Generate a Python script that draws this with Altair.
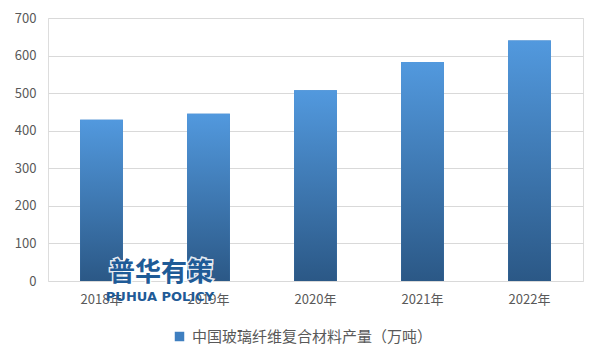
import altair as alt
import pandas as pd

years = ["2018年", "2019年", "2020年", "2021年", "2022年"]
values = [429, 445, 508, 583, 640]
series_name = "中国玻璃纤维复合材料产量（万吨）"
y_ticks = [0, 100, 200, 300, 400, 500, 600, 700]

df = pd.DataFrame({"year": years, "value": values, "series": [series_name] * len(years)})

FONT = "Noto Sans CJK SC"
x_enc = alt.X("year:N", sort=years, title=None,
              scale=alt.Scale(paddingInner=0.6, paddingOuter=0.3),
              axis=alt.Axis(labelAngle=0, labelFontSize=13, labelColor="#595959",
                            labelFont=FONT, ticks=False, domain=False, labelPadding=12))
y_enc = alt.Y("value:Q", title=None,
              scale=alt.Scale(domain=[0, 700]),
              axis=alt.Axis(values=y_ticks, labelFontSize=13, labelColor="#595959",
                            labelFont=FONT, ticks=False, domain=False, labelPadding=12,
                            gridColor="#d9d9d9", gridWidth=1))

legend_layer = alt.Chart(df).mark_bar().encode(
    x=x_enc, y=y_enc,
    color=alt.Color("series:N", scale=alt.Scale(range=["#3f7fc0"]),
                    legend=alt.Legend(title=None, orient="none", legendX=124, legendY=311,
                                      symbolType="square", symbolSize=90, labelFontSize=15,
                                      labelLimit=0, labelOffset=5,
                                      labelColor="#595959", labelFont=FONT, symbolStrokeWidth=0)),
)

grad = alt.Gradient(gradient="linear",
                    stops=[alt.GradientStop(color="#5299de", offset=0),
                           alt.GradientStop(color="#2b5886", offset=1)],
                    x1=0, x2=0, y1=0, y2=1)

bars = alt.Chart(df).mark_bar(color=grad).encode(x=x_enc, y=y_enc)

wm1 = alt.Chart(pd.DataFrame({"t": ["普华有策"]})).mark_text(
    font=FONT, fontSize=26, fontWeight="bold", color="#1f5b97",
    stroke="white", strokeWidth=3, strokeOpacity=0.9
).encode(x=alt.value(113), y=alt.value(255), text="t:N")
wm1b = alt.Chart(pd.DataFrame({"t": ["普华有策"]})).mark_text(
    font=FONT, fontSize=26, fontWeight="bold", color="#1f5b97"
).encode(x=alt.value(113), y=alt.value(255), text="t:N")
wm2 = alt.Chart(pd.DataFrame({"t": ["PUHUA POLICY"]})).mark_text(
    font="DejaVu Sans", fontSize=13, fontWeight="bold", color="#1f5b97"
).encode(x=alt.value(112), y=alt.value(279), text="t:N")

chart = alt.layer(legend_layer, bars, wm1, wm1b, wm2).properties(
    width=535, height=263,
    autosize=alt.AutoSizeParams(type="none"),
    padding={"left": 40, "top": 10, "right": 10, "bottom": 70},
).configure_view(stroke=None).configure(background="white")

chart.save("out.html", embed_options={"renderer": "svg", "actions": False})
